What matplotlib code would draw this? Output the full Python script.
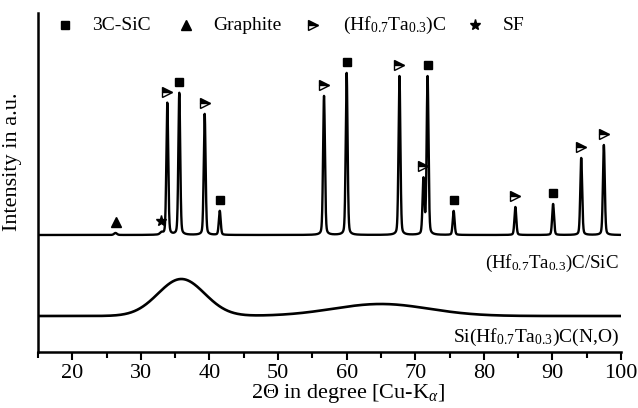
import numpy as np
import matplotlib
matplotlib.use("Agg")
import matplotlib.pyplot as plt

plt.rcParams['font.family'] = ['Liberation Serif', 'DejaVu Serif']
plt.rcParams['mathtext.fontset'] = 'custom'
plt.rcParams['mathtext.rm'] = 'Liberation Serif'
plt.rcParams['mathtext.it'] = 'Liberation Serif:italic'

# ---- data ----
hftac_pos = [33.85, 39.3, 56.7, 67.7, 71.2, 84.6, 94.2, 97.5]
hftac_int = [132, 121, 139, 159, 55, 28, 77, 90]
sic_pos = [35.6, 41.5, 60.0, 71.8, 75.6, 90.1]
sic_int = [142, 24, 162, 158, 24, 31]
graphite_pos = [26.3]
graphite_int = [2]
sf_pos = [33.0]
sf_int = [2]
top_baseline = 117

amorph_pos = [35.9, 65.0]
amorph_int = [37, 12]
amorph_sigma = [3.4, 7.0]
bottom_baseline = 36

x_ticks = [20, 30, 40, 50, 60, 70, 80, 90, 100]

# ---- profiles ----
tt = np.linspace(15, 100, 8000)

def pv(x, c, h, fwhm=0.32, eta=0.25):
    g = np.exp(-4 * np.log(2) * ((x - c) / fwhm) ** 2)
    l = 1 / (1 + 4 * ((x - c) / fwhm) ** 2)
    return h * ((1 - eta) * g + eta * l)

top = np.full_like(tt, top_baseline, dtype=float)
for c, h in zip(hftac_pos + sic_pos, hftac_int + sic_int):
    top += pv(tt, c, h)
for c, h in zip(graphite_pos + sf_pos, graphite_int + sf_int):
    top += pv(tt, c, h, fwhm=0.5)

bottom = np.full_like(tt, bottom_baseline, dtype=float)
for c, h, s in zip(amorph_pos, amorph_int, amorph_sigma):
    bottom += h * np.exp(-0.5 * ((tt - c) / s) ** 2)

fig = plt.figure(figsize=(6.38, 4.08), dpi=100)
ax = fig.add_axes([38 / 638, 1 - 352 / 408, 583 / 638, 339 / 408])
ax.plot(tt, top, color='black', lw=1.7)
ax.plot(tt, bottom, color='black', lw=1.9)

off = 11
def mark(pos, marker, ms, **kw):
    ys = np.interp(pos, tt, top) + off
    ax.plot(pos, ys, linestyle='none', marker=marker, ms=ms, color='black', **kw)

mark(sic_pos, 's', 6)
mark(hftac_pos, '>', 7, fillstyle='top', markerfacecoloralt='white', mec='black', mew=1.0)
mark(graphite_pos, '^', 7)
mark(sf_pos, '*', 8)

ax.set_xlim(15, 100)
ax.set_ylim(0, 339)
ax.set_xticks(x_ticks)
ax.set_xticks(np.arange(15, 100, 10), minor=True)
ax.set_yticks([])
ax.tick_params(axis='x', which='major', direction='out', length=6, width=1.5, labelsize=16, pad=3)
ax.tick_params(axis='x', which='minor', direction='out', length=4, width=1.5)
for s in ['top', 'right']:
    ax.spines[s].set_visible(False)
ax.spines['left'].set_linewidth(1.8)
ax.spines['bottom'].set_linewidth(1.8)

ax.set_xlabel(r'2$\Theta$ in degree [Cu-K$_{\alpha}$]', fontsize=16, va='bottom')
ax.xaxis.set_label_coords(0.532, -0.156)
ax.set_ylabel('Intensity in a.u.', fontsize=16)
ax.yaxis.set_label_coords(-0.027, 0.56)

ax.text(99.7, 89, r'(Hf$_{\mathrm{0.7}}$Ta$_{\mathrm{0.3}}$)C/SiC', ha='right', va='center', fontsize=13.6)
ax.text(99.7, 15, r'Si(Hf$_{\mathrm{0.7}}$Ta$_{\mathrm{0.3}}$)C(N,O)', ha='right', va='center', fontsize=14)

# legend row
def px(x, y):
    return ((x - 38) / 583, (352 - y) / 339)

items = [(65, 's', 6, {}, 92, '3C-SiC'),
         (186, '^', 7, {}, 213, 'Graphite'),
         (313, '>', 7, dict(fillstyle='top', markerfacecoloralt='white', mec='black', mew=1.0), 343,
          r'(Hf$_{\mathrm{0.7}}$Ta$_{\mathrm{0.3}}$)C'),
         (475, '*', 8, {}, 503, 'SF')]
for mx, m, ms, kw, tx, label in items:
    ax.plot(*px(mx, 25), marker=m, ms=ms, color='black', transform=ax.transAxes, clip_on=False, **kw)
    ax.text(*px(tx, 25), label, transform=ax.transAxes, ha='left', va='center', fontsize=14)

fig.savefig('out.png', dpi=100)
